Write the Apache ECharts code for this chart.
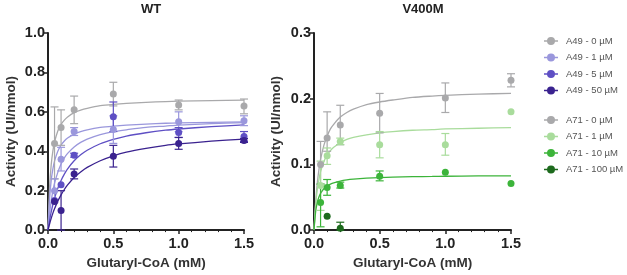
<!DOCTYPE html>
<html>
<head>
<meta charset="utf-8">
<script src="https://cdn.jsdelivr.net/npm/echarts@6/dist/echarts.min.js"></script>
<style>
  html, body { margin: 0; padding: 0; background: #fff; }
  #chart { width: 627px; height: 275px; }
</style>
</head>
<body>
<div id="chart"></div>
<script>
// substrate concentrations (mM)
var conc = [0.05, 0.1, 0.2, 0.5, 1.0, 1.5];
var fitX = [0, 0.0125, 0.025, 0.0375, 0.05, 0.075, 0.1, 0.125, 0.15, 0.2, 0.25, 0.3, 0.4, 0.5, 0.6, 0.75, 0.9, 1.0, 1.25, 1.5];

// WT measured points
var wtA49_0 = [0.44, 0.52, 0.61, 0.69, 0.635, 0.63];
var wtA49_1 = [0.20, 0.36, 0.50, 0.51, 0.55, 0.555];
var wtA49_5 = [0.15, 0.23, 0.38, 0.575, 0.495, 0.475];
var wtA49_50 = [0.145, 0.10, 0.285, 0.375, 0.44, 0.455];
// WT error bars [x, low, high]
var wtErr0 = [[0.05, 0.26, 0.625], [0.1, 0.43, 0.61], [0.2, 0.54, 0.68], [0.5, 0.63, 0.75], [1.0, 0.61, 0.66], [1.5, 0.59, 0.665]];
var wtErr1 = [[0.05, 0.14, 0.26], [0.1, 0.30, 0.42], [0.2, 0.48, 0.52], [0.5, 0.44, 0.58], [1.0, 0.50, 0.60], [1.5, 0.53, 0.58]];
var wtErr5 = [[0.2, 0.37, 0.39], [0.5, 0.50, 0.65], [1.0, 0.47, 0.52], [1.5, 0.45, 0.50]];
var wtErr50 = [[0.1, 0.0, 0.2], [0.2, 0.26, 0.31], [0.5, 0.32, 0.43], [1.0, 0.41, 0.47], [1.5, 0.445, 0.465]];
// WT fitted curves at fitX
var wtFit0 = [0, 0.223, 0.335, 0.402, 0.447, 0.503, 0.536, 0.558, 0.574, 0.596, 0.609, 0.618, 0.631, 0.638, 0.643, 0.648, 0.652, 0.654, 0.657, 0.659];
var wtFit1 = [0, 0.163, 0.255, 0.311, 0.35, 0.4, 0.431, 0.452, 0.467, 0.487, 0.5, 0.509, 0.521, 0.528, 0.533, 0.538, 0.542, 0.544, 0.547, 0.549];
var wtFit1b = [0, 0.086, 0.15, 0.199, 0.2375, 0.293, 0.335, 0.366, 0.389, 0.422, 0.445, 0.462, 0.485, 0.5, 0.509, 0.521, 0.528, 0.533, 0.54, 0.545];
var wtFit5 = [0, 0.0509, 0.0935, 0.13, 0.161, 0.212, 0.252, 0.284, 0.311, 0.352, 0.382, 0.405, 0.438, 0.46, 0.477, 0.494, 0.507, 0.513, 0.525, 0.534];
var wtFit50 = [0, 0.032, 0.0605, 0.086, 0.108, 0.147, 0.179, 0.206, 0.229, 0.267, 0.295, 0.318, 0.352, 0.377, 0.396, 0.415, 0.43, 0.437, 0.451, 0.462];

// V400M measured points
var mA71_0 = [0.10, 0.14, 0.16, 0.178, 0.201, 0.228];
var mA71_1 = [0.068, 0.113, 0.135, 0.13, 0.13, 0.18];
var mA71_10 = [0.042, 0.065, 0.068, 0.082, 0.088, 0.071];
var mA71_100 = [null, 0.021, 0.003, null, null, null];
var mErr0 = [[0.05, 0.07, 0.135], [0.1, 0.12, 0.18], [0.2, 0.13, 0.19], [0.5, 0.148, 0.208], [1.0, 0.179, 0.224], [1.5, 0.218, 0.238]];
var mErr1 = [[0.05, 0.03, 0.105], [0.1, 0.10, 0.125], [0.2, 0.13, 0.14], [0.5, 0.11, 0.15], [1.0, 0.114, 0.147]];
var mErr10 = [[0.05, 0.005, 0.07], [0.1, 0.053, 0.077], [0.2, 0.064, 0.073], [0.5, 0.075, 0.09]];
var mErr100 = [[0.2, 0, 0.012]];
var mFit0 = [0, 0.043, 0.0717, 0.092, 0.1075, 0.129, 0.143, 0.154, 0.161, 0.172, 0.179, 0.184, 0.191, 0.195, 0.198, 0.202, 0.204, 0.205, 0.207, 0.208];
var mFit1 = [0, 0.038, 0.0615, 0.077, 0.0889, 0.104, 0.114, 0.121, 0.126, 0.133, 0.138, 0.141, 0.145, 0.148, 0.15, 0.152, 0.153, 0.154, 0.155, 0.156];
var mFit10 = [0, 0.028, 0.042, 0.0504, 0.056, 0.063, 0.0672, 0.07, 0.072, 0.0747, 0.0764, 0.0775, 0.079, 0.08, 0.0806, 0.0813, 0.0817, 0.082, 0.0824, 0.0826];

var C = {
  gray: '#a9a9ab', lav: '#9a97dc', mid: '#5e4fc4', dark: '#3a228f',
  lgreen: '#a9dc9c', green: '#3cb43a', dgreen: '#1d6a1d'
};

var legendIcon = 'path://M0,4.3H14V5.7H0Z M11,5A4,4 0 1,1 3,5A4,4 0 1,1 11,5Z';
var FONT = 'Liberation Sans, Arial';

function pts(xs, ys) {
  var out = [];
  for (var i = 0; i < xs.length; i++) {
    if (ys[i] != null) out.push([xs[i], ys[i]]);
  }
  return out;
}

function scatter(name, idx, ys, color) {
  return {
    name: name, type: 'scatter', xAxisIndex: idx, yAxisIndex: idx,
    data: pts(conc, ys), symbolSize: 7, z: 5,
    itemStyle: { color: color, opacity: 1 }
  };
}

function fit(idx, ys, color) {
  return {
    type: 'line', xAxisIndex: idx, yAxisIndex: idx, data: pts(fitX, ys),
    smooth: 0.25, showSymbol: false, silent: true,
    lineStyle: { color: color, width: 1.3 }, z: 3
  };
}

function errBars(idx, data, color) {
  return {
    type: 'custom', xAxisIndex: idx, yAxisIndex: idx, data: data, z: 4, silent: true,
    renderItem: function(params, api) {
      var lo = api.coord([api.value(0), api.value(1)]);
      var hi = api.coord([api.value(0), api.value(2)]);
      var w = 4;
      var st = { stroke: color, lineWidth: 1.2, fill: null };
      return {
        type: 'group',
        children: [
          { type: 'line', shape: { x1: lo[0], y1: lo[1], x2: hi[0], y2: hi[1] }, style: st },
          { type: 'line', shape: { x1: hi[0] - w, y1: hi[1], x2: hi[0] + w, y2: hi[1] }, style: st },
          { type: 'line', shape: { x1: lo[0] - w, y1: lo[1], x2: lo[0] + w, y2: lo[1] }, style: st }
        ]
      };
    }
  };
}

var axisLine = { lineStyle: { color: '#222', width: 2 } };
var tickLbl = { color: '#222', fontSize: 14.5, fontWeight: 'bold', fontFamily: FONT };
var nameSt = { color: '#333', fontSize: 13.5, fontWeight: 'bold', fontFamily: FONT };

function xAxis(idx) {
  return {
    type: 'value', gridIndex: idx, min: 0, max: 1.5, interval: 0.5,
    name: 'Glutaryl-CoA (mM)', nameLocation: 'middle', nameGap: 25, nameTextStyle: nameSt,
    axisLine: axisLine, axisTick: { show: true, length: 4, lineStyle: { color: '#222', width: 1.5 } },
    minorTick: { show: true, splitNumber: 5, length: 2, lineStyle: { color: '#222' } },
    axisLabel: Object.assign({ margin: 6, formatter: function(v) { return v.toFixed(1); } }, tickLbl),
    splitLine: { show: false }
  };
}

function yAxis(idx, max, interval, gap) {
  return {
    type: 'value', gridIndex: idx, min: 0, max: max, interval: interval,
    name: 'Activity (UI/nmol)', nameLocation: 'middle', nameGap: gap, nameTextStyle: nameSt,
    axisLine: Object.assign({ show: true }, axisLine),
    axisTick: { show: true, length: 4, lineStyle: { color: '#222', width: 1.5 } },
    axisLabel: Object.assign({ margin: 3, formatter: function(v) { return v.toFixed(1); } }, tickLbl),
    splitLine: { show: false }
  };
}

var legendText = { color: '#555', fontSize: 9.5, fontFamily: FONT, padding: [0, 0, 0, 3] };

var chart = echarts.init(document.getElementById('chart'), null, { renderer: 'canvas' });
chart.setOption({
  animation: false,
  backgroundColor: '#fff',
  title: [
    { text: 'WT', left: 146, top: -2, textAlign: 'center',
      textStyle: { fontSize: 13, fontWeight: 'bold', color: '#222', fontFamily: FONT } },
    { text: 'V400M', left: 418, top: -2, textAlign: 'center',
      textStyle: { fontSize: 13, fontWeight: 'bold', color: '#222', fontFamily: FONT } }
  ],
  legend: [
    { orient: 'vertical', left: 539, top: 31, itemWidth: 14, itemHeight: 10, itemGap: 6.5,
      icon: legendIcon, textStyle: legendText,
      data: ['A49 - 0 µM', 'A49 - 1 µM', 'A49 - 5 µM', 'A49 - 50 µM'] },
    { orient: 'vertical', left: 539, top: 110, itemWidth: 14, itemHeight: 10, itemGap: 6.5,
      icon: legendIcon, textStyle: legendText,
      data: ['A71 - 0 µM', 'A71 - 1 µM', 'A71 - 10 µM', 'A71 - 100 µM'] }
  ],
  grid: [
    { left: 48, top: 33, width: 196, height: 198 },
    { left: 314, top: 33, width: 197, height: 198 }
  ],
  xAxis: [xAxis(0), xAxis(1)],
  yAxis: [yAxis(0, 1.0, 0.2, 30), yAxis(1, 0.3, 0.1, 31)],
  series: [
    fit(0, wtFit0, C.gray), fit(0, wtFit1, C.lav), fit(0, wtFit1b, C.lav),
    fit(0, wtFit5, C.mid), fit(0, wtFit50, C.dark),
    errBars(0, wtErr0, C.gray), errBars(0, wtErr1, C.lav),
    errBars(0, wtErr5, C.mid), errBars(0, wtErr50, C.dark),
    scatter('A49 - 0 µM', 0, wtA49_0, C.gray),
    scatter('A49 - 1 µM', 0, wtA49_1, C.lav),
    scatter('A49 - 5 µM', 0, wtA49_5, C.mid),
    scatter('A49 - 50 µM', 0, wtA49_50, C.dark),

    fit(1, mFit0, C.gray), fit(1, mFit1, C.lgreen), fit(1, mFit10, C.green),
    errBars(1, mErr0, C.gray), errBars(1, mErr1, C.lgreen),
    errBars(1, mErr10, C.green), errBars(1, mErr100, C.dgreen),
    scatter('A71 - 0 µM', 1, mA71_0, C.gray),
    scatter('A71 - 1 µM', 1, mA71_1, C.lgreen),
    scatter('A71 - 10 µM', 1, mA71_10, C.green),
    scatter('A71 - 100 µM', 1, mA71_100, C.dgreen)
  ]
});
</script>
</body>
</html>
